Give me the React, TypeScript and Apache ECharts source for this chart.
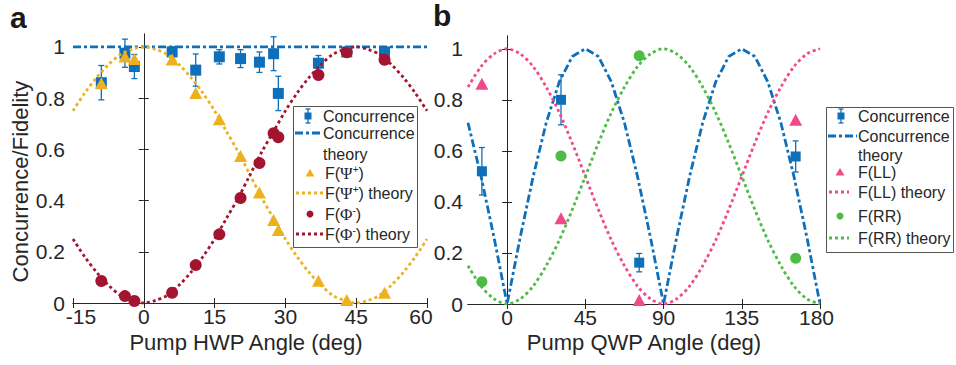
import React, { useEffect, useRef } from 'react';
import * as echarts from 'echarts';

// ---------- Panel a data (Pump HWP angle) ----------
const hwpAngles = [-9, -4, -2, 6, 11, 16, 20.5, 24.5, 27.5, 28.5, 37, 43, 51];
const concA = [0.86, 0.975, 0.923, 0.98, 0.909, 0.961, 0.954, 0.94, 0.973, 0.818, 0.936, 0.98, 0.98];
const concAErr = [0.067, 0.055, 0.047, 0.02, 0.063, 0.028, 0.035, 0.04, 0.066, 0.067, 0.03, 0.015, 0.015];
const psiPlus = [0.858, 0.962, 0.952, 0.95, 0.82, 0.717, 0.574, 0.431, 0.324, 0.285, 0.087, 0.012, 0.04];
const phiMinus = [0.086, 0.027, 0.008, 0.04, 0.148, 0.268, 0.41, 0.546, 0.663, 0.647, 0.89, 0.979, 0.949];

const concTheoryAAngles = [-15, 60];
const concTheoryA = [1, 1];
const hwpTheoryAngles = [-15, -12.5, -10, -7.5, -5, -2.5, 0, 2.5, 5, 7.5, 10, 12.5, 15, 17.5, 20, 22.5, 25, 27.5, 30, 32.5, 35, 37.5, 40, 42.5, 45, 47.5, 50, 52.5, 55, 57.5, 60];
const psiPlusTheory = [0.75, 0.82, 0.88, 0.93, 0.97, 0.99, 1, 0.99, 0.97, 0.93, 0.88, 0.82, 0.75, 0.67, 0.59, 0.5, 0.41, 0.33, 0.25, 0.18, 0.12, 0.07, 0.03, 0.01, 0, 0.01, 0.03, 0.07, 0.12, 0.18, 0.25];
const phiMinusTheory = [0.25, 0.18, 0.12, 0.07, 0.03, 0.01, 0, 0.01, 0.03, 0.07, 0.12, 0.18, 0.25, 0.33, 0.41, 0.5, 0.59, 0.67, 0.75, 0.82, 0.88, 0.93, 0.97, 0.99, 1, 0.99, 0.97, 0.93, 0.88, 0.82, 0.75];

// ---------- Panel b data (Pump QWP angle) ----------
const qwpAngles = [-14.5, 31, 76, 166];
const concB = [0.52, 0.8, 0.162, 0.578];
const concBErr = [0.093, 0.098, 0.036, 0.061];
const fLL = [0.863, 0.336, 0.016, 0.722];
const fRR = [0.087, 0.58, 0.973, 0.179];

const qwpTheoryAngles = [-22.5, -15, -7.5, 0, 7.5, 15, 22.5, 30, 37.5, 45, 52.5, 60, 67.5, 75, 82.5, 90, 97.5, 105, 112.5, 120, 127.5, 135, 142.5, 150, 157.5, 165, 172.5, 180];
const concTheoryB = [0.71, 0.5, 0.26, 0, 0.26, 0.5, 0.71, 0.87, 0.97, 1, 0.97, 0.87, 0.71, 0.5, 0.26, 0, 0.26, 0.5, 0.71, 0.87, 0.97, 1, 0.97, 0.87, 0.71, 0.5, 0.26, 0];
const llTheory = [0.85, 0.93, 0.98, 1, 0.98, 0.93, 0.85, 0.75, 0.63, 0.5, 0.37, 0.25, 0.15, 0.07, 0.02, 0, 0.02, 0.07, 0.15, 0.25, 0.37, 0.5, 0.63, 0.75, 0.85, 0.93, 0.98, 1];
const rrTheory = [0.15, 0.07, 0.02, 0, 0.02, 0.07, 0.15, 0.25, 0.37, 0.5, 0.63, 0.75, 0.85, 0.93, 0.98, 1, 0.98, 0.93, 0.85, 0.75, 0.63, 0.5, 0.37, 0.25, 0.15, 0.07, 0.02, 0];

// ---------- Ticks ----------
const hwpTicks = [-15, 0, 15, 30, 45, 60];
const qwpTicks = [0, 45, 90, 135, 180];
const fidelityTicks = [0, 0.2, 0.4, 0.6, 0.8, 1];

const COL = {
  blue: '#0E6FBB',
  yellow: '#EDB120',
  red: '#A2142F',
  pink: '#EF4B8C',
  green: '#4DBB45',
  ink: '#262626',
};
const FONT = '"Liberation Sans", Arial, sans-serif';
const SERIF = '"Liberation Serif", "Times New Roman", serif';
const dashDot = [8, 3, 3, 3];
const dotted = [3, 3];

const zip = (xs: number[], ys: number[]) => xs.map((x, i) => [x, ys[i]]);
const zip3 = (xs: number[], ys: number[], es: number[]) => xs.map((x, i) => [x, ys[i], es[i]]);

function errorBarSeries(data: number[][], xi: number, yi: number, color: string) {
  return {
    type: 'custom',
    xAxisIndex: xi,
    yAxisIndex: yi,
    data,
    encode: { x: 0, y: 1 },
    clip: false,
    renderItem: (params: any, api: any) => {
      const x = api.value(0);
      const y = api.value(1);
      const e = api.value(2);
      const top = api.coord([x, y + e]);
      const bot = api.coord([x, y - e]);
      const hw = 3;
      const st = { stroke: color, lineWidth: 1.3 };
      return {
        type: 'group',
        children: [
          { type: 'line', shape: { x1: top[0], y1: top[1], x2: bot[0], y2: bot[1] }, style: st },
          { type: 'line', shape: { x1: top[0] - hw, y1: top[1], x2: top[0] + hw, y2: top[1] }, style: st },
          { type: 'line', shape: { x1: bot[0] - hw, y1: bot[1], x2: bot[0] + hw, y2: bot[1] }, style: st },
        ],
      };
    },
  };
}

function scatter(data: number[][], xi: number, yi: number, symbol: string, size: any, color: string) {
  return {
    type: 'scatter',
    xAxisIndex: xi,
    yAxisIndex: yi,
    data,
    symbol,
    symbolSize: size,
    itemStyle: { color, opacity: 1 },
    clip: false,
  };
}

function theory(data: number[][], xi: number, yi: number, color: string, type: number[], smooth: any) {
  return {
    type: 'line',
    xAxisIndex: xi,
    yAxisIndex: yi,
    data,
    showSymbol: false,
    symbol: 'none',
    smooth,
    lineStyle: { color, width: 2.8, type, cap: 'butt' },
    clip: true,
  };
}

function txt(x: number, y: number, text: string, extra: any = {}) {
  return {
    type: 'text',
    x,
    y,
    style: {
      text,
      fontSize: 16,
      fontFamily: FONT,
      fill: COL.ink,
      align: 'left',
      verticalAlign: 'middle',
      ...extra,
    },
  };
}

const richGreek = {
  g: { fontFamily: SERIF, fontSize: 17, fill: COL.ink },
  s: { fontSize: 10, fontFamily: FONT, fill: COL.ink, verticalAlign: 'top' },
};

function errorIcon(cx: number, cy: number, color: string) {
  const st = { stroke: color, lineWidth: 1.3 };
  return [
    { type: 'line', shape: { x1: cx, y1: cy - 7, x2: cx, y2: cy + 7 }, style: st },
    { type: 'line', shape: { x1: cx - 2.5, y1: cy - 7, x2: cx + 2.5, y2: cy - 7 }, style: st },
    { type: 'line', shape: { x1: cx - 2.5, y1: cy + 7, x2: cx + 2.5, y2: cy + 7 }, style: st },
    { type: 'rect', shape: { x: cx - 3.5, y: cy - 3.5, width: 7, height: 7 }, style: { fill: color } },
  ];
}

function lineIcon(x1: number, x2: number, y: number, color: string, dash: number[]) {
  return {
    type: 'line',
    shape: { x1, y1: y, x2, y2: y },
    style: { stroke: color, lineWidth: 2.8, lineDash: dash, lineCap: 'butt' },
  };
}

function triIcon(cx: number, cy: number, color: string) {
  return {
    type: 'polygon',
    shape: { points: [[cx, cy - 4], [cx + 4.5, cy + 3.5], [cx - 4.5, cy + 3.5]] },
    style: { fill: color },
  };
}

function dotIcon(cx: number, cy: number, color: string) {
  return { type: 'circle', shape: { cx, cy, r: 3.5 }, style: { fill: color } };
}

function legendA() {
  const tx = 323;
  return [
    { type: 'rect', shape: { x: 293.5, y: 106.5, width: 124, height: 141 }, style: { fill: '#ffffff', stroke: '#555555', lineWidth: 1 } },
    ...errorIcon(308, 116, COL.blue),
    txt(tx, 116, 'Concurrence'),
    lineIcon(295, 322, 133, COL.blue, dashDot),
    txt(tx, 133, 'Concurrence'),
    txt(tx, 154, 'theory'),
    triIcon(310, 173, COL.yellow),
    txt(325, 173, 'F({g|Ψ}{s|+})', { rich: richGreek }),
    lineIcon(296, 323, 193, COL.yellow, dotted),
    txt(325, 193, 'F({g|Ψ}{s|+}) theory', { rich: richGreek }),
    dotIcon(310, 214, COL.red),
    txt(325, 214, 'F({g|Φ}{s|-})', { rich: richGreek }),
    lineIcon(296, 323, 234, COL.red, dotted),
    txt(325, 234, 'F({g|Φ}{s|-}) theory', { rich: richGreek }),
  ];
}

function legendB() {
  const tx = 858;
  return [
    { type: 'rect', shape: { x: 826.5, y: 107.5, width: 127, height: 145 }, style: { fill: '#ffffff', stroke: '#555555', lineWidth: 1 } },
    ...errorIcon(841, 116, COL.blue),
    txt(tx, 116, 'Concurrence'),
    lineIcon(828, 857, 136, COL.blue, dashDot),
    txt(tx, 136, 'Concurrence'),
    txt(tx, 155, 'theory'),
    triIcon(840, 172, COL.pink),
    txt(tx, 172, 'F(LL)'),
    lineIcon(829, 849, 192, COL.pink, dotted),
    txt(tx, 192, 'F(LL) theory'),
    dotIcon(840, 216, COL.green),
    txt(tx, 216, 'F(RR)'),
    lineIcon(829, 849, 238, COL.green, dotted),
    txt(tx, 238, 'F(RR) theory'),
  ];
}

const tickFont = { fontSize: 21, fontFamily: FONT, color: COL.ink, lineHeight: 17 };

function xAxes(gridIndex: number, min: number, max: number, ticks: number[], shiftMin: number, shiftMax: number) {
  const line = { show: true, lineStyle: { color: COL.ink, width: 1 } };
  return [
    {
      type: 'value', gridIndex, min, max, position: 'bottom',
      axisLine: line,
      axisTick: { show: true, inside: true, length: 5, customValues: ticks, lineStyle: { color: COL.ink } },
      axisLabel: {
        show: true,
        customValues: ticks,
        ...tickFont,
        margin: 5,
        formatter: (v: number) => {
          if (v === ticks[0] && shiftMin) return '{l|' + v + '}';
          if (v === ticks[ticks.length - 1] && shiftMax) return '{r|' + v + '}';
          return String(v);
        },
        rich: {
          l: { ...tickFont, padding: [0, 0, 0, shiftMin] },
          r: { ...tickFont, padding: [0, shiftMax, 0, 0] },
        },
      },
      splitLine: { show: false },
    },
    {
      type: 'value', gridIndex, min, max, position: 'top',
      axisLine: line,
      axisTick: { show: true, inside: true, length: 5, customValues: ticks, lineStyle: { color: COL.ink } },
      axisLabel: { show: false },
      splitLine: { show: false },
    },
  ];
}

function yAxes(gridIndex: number, margin: number) {
  const line = { show: true, lineStyle: { color: COL.ink, width: 1 } };
  return [
    {
      type: 'value', gridIndex, min: 0, max: 1.05, position: 'left',
      axisLine: line,
      axisTick: { show: true, inside: true, length: 5, customValues: fidelityTicks, lineStyle: { color: COL.ink } },
      axisLabel: { show: true, customValues: fidelityTicks, ...tickFont, margin },
      splitLine: { show: false },
    },
    {
      type: 'value', gridIndex, min: 0, max: 1.05, position: 'right',
      axisLine: line,
      axisTick: { show: true, inside: true, length: 5, customValues: fidelityTicks, lineStyle: { color: COL.ink } },
      axisLabel: { show: false },
      splitLine: { show: false },
    },
  ];
}

export default function App() {
  const ref = useRef<HTMLDivElement>(null);
  useEffect(() => {
    if (!ref.current) return;
    const chart = echarts.init(ref.current, undefined, { renderer: 'svg' });
    const option: any = {
      animation: false,
      backgroundColor: '#ffffff',
      grid: [
        { left: 73, top: 34, width: 354, height: 269 },
        { left: 468, top: 36, width: 352, height: 268 },
      ],
      xAxis: [...xAxes(0, -15, 60, hwpTicks, 16, 12), ...xAxes(1, -22.5, 180, qwpTicks, 0, 7)],
      yAxis: [...yAxes(0, 8), ...yAxes(1, 5)],
      series: [
        // panel a
        errorBarSeries(zip3(hwpAngles, concA, concAErr), 0, 0, COL.blue),
        scatter(zip(hwpAngles, concA), 0, 0, 'rect', 11, COL.blue),
        theory(zip(concTheoryAAngles, concTheoryA), 0, 0, COL.blue, dashDot, false),
        scatter(zip(hwpAngles, psiPlus), 0, 0, 'triangle', [13, 12], COL.yellow),
        theory(zip(hwpTheoryAngles, psiPlusTheory), 0, 0, COL.yellow, dotted, 0.3),
        scatter(zip(hwpAngles, phiMinus), 0, 0, 'circle', 12, COL.red),
        theory(zip(hwpTheoryAngles, phiMinusTheory), 0, 0, COL.red, dotted, 0.3),
        // panel b
        errorBarSeries(zip3(qwpAngles, concB, concBErr), 2, 2, COL.blue),
        scatter(zip(qwpAngles, concB), 2, 2, 'rect', 10, COL.blue),
        theory(zip(qwpTheoryAngles, concTheoryB), 2, 2, COL.blue, dashDot, false),
        scatter(zip(qwpAngles, fLL), 2, 2, 'triangle', [13, 12], COL.pink),
        theory(zip(qwpTheoryAngles, llTheory), 2, 2, COL.pink, dotted, 0.3),
        scatter(zip(qwpAngles, fRR), 2, 2, 'circle', 11, COL.green),
        theory(zip(qwpTheoryAngles, rrTheory), 2, 2, COL.green, dotted, 0.3),
      ],
      graphic: [
        { type: 'text', x: 10, y: 17, style: { text: 'a', fontSize: 30, lineHeight: 24, fontWeight: 'bold', fontFamily: FONT, fill: '#1a1a1a', align: 'left', verticalAlign: 'middle' } },
        { type: 'text', x: 433, y: 15, style: { text: 'b', fontSize: 30, lineHeight: 24, fontWeight: 'bold', fontFamily: FONT, fill: '#1a1a1a', align: 'left', verticalAlign: 'middle' } },
        { type: 'text', x: 20.7, y: 181.5, rotation: Math.PI / 2, style: { text: 'Concurrence/Fidelity', fontSize: 22, lineHeight: 20, fontFamily: FONT, fill: COL.ink, align: 'center', verticalAlign: 'middle' } },
        { type: 'text', x: 246, y: 342.5, style: { text: 'Pump HWP Angle (deg)', fontSize: 22, lineHeight: 18, fontFamily: FONT, fill: COL.ink, align: 'center', verticalAlign: 'middle' } },
        { type: 'text', x: 644, y: 342.5, style: { text: 'Pump QWP Angle (deg)', fontSize: 22, lineHeight: 18, fontFamily: FONT, fill: COL.ink, align: 'center', verticalAlign: 'middle' } },
        ...legendA(),
        ...legendB(),
      ],
    };
    chart.setOption(option);
    return () => chart.dispose();
  }, []);
  return (
    <div
      ref={ref}
      style={{ position: 'fixed', left: 0, top: 0, width: 956, height: 365, background: '#ffffff' }}
    />
  );
}
